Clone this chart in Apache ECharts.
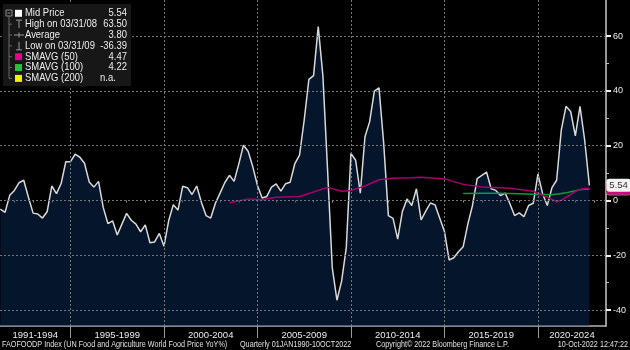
<!DOCTYPE html>
<html>
<head>
<meta charset="utf-8">
<script src="https://cdn.jsdelivr.net/npm/echarts@6/dist/echarts.min.js"></script>
<style>
  html, body { margin: 0; padding: 0; background: #000; }
  #chart { width: 630px; height: 350px; }
</style>
</head>
<body>
<div id="chart"></div>
<script>
// FAO World Food Price Index, year-on-year change (%), quarterly 1991 Q1 .. 2022 Q3
const firstQuarter = '1991Q1';
const midPrice = [
  -3.1, -4.3, 1.9, 3.7, 6.5, 7.4, 1.2, -4.6, -4.9, -6.4,
  -4.1, 5.3, 2.5, 6.2, 14.2, 14.2, 16.9, 15.8, 13.6, 6.8,
  4.9, 7.0, -2.5, -8.4, -7.4, -12.6, -8.6, -4.7, -7.2, -8.6,
  -11.4, -8.9, -15.4, -15.1, -12.0, -16.7, -7.4, -1.5, -3.5, 5.2,
  4.7, 2.2, 5.3, -0.6, -5.5, -6.4, -1.0, 2.7, 6.5, 9.2,
  7.0, 13.3, 20.2, 18.0, 12.3, 5.5, 0.9, 1.5, 4.9, 6.1,
  3.4, 6.1, 6.7, 13.5, 16.6, 29.4, 44.2, 45.6, 63.5, 45.4,
  11.0, -24.5, -36.39, -29.4, -17.2, 17.2, 14.7, 2.7, 23.3, 28.8,
  39.9, 41.1, 20.9, -5.5, -6.5, -14.1, -4.0, 0.6, -1.8, 4.3,
  -7.1, -3.9, -0.9, -1.6, -6.5, -11.3, -21.7, -20.9, -18.7, -16.9,
  -8.6, -1.8, 8.0, 9.2, 10.4, 4.3, 3.7, 1.8, 2.7, -1.2,
  -5.5, -4.5, -5.9, -1.8, -1.0, 9.6, 2.5, -1.8, 4.7, 7.4,
  25.8, 34.4, 32.5, 23.6, 34.4, 22.0, 5.54
];

// Simple moving averages (50 and 100 quarters)
const sma50Quarters = ['2003Q2','2004Q2','2005Q1','2005Q4','2007Q1','2007Q4','2008Q3','2009Q2','2009Q4','2010Q3',
  '2011Q2','2012Q1','2013Q1','2013Q3','2014Q4','2015Q4','2016Q4','2018Q2','2019Q3','2020Q2',
  '2020Q4','2021Q1','2021Q3','2021Q4','2022Q1','2022Q2','2022Q3'];
const sma50Values = [-0.8, 0.6, 0.3, 1.2, 1.5, 3.1, 4.8, 3.4, 3.7, 5.3,
  7.6, 8.1, 8.3, 8.5, 7.9, 5.9, 4.9, 4.5, 3.4, 1.2,
  -0.4, 0.1, 2.2, 3.3, 4.0, 4.4, 4.47];
const sma100Quarters = ['2015Q4','2016Q4','2017Q4','2018Q4','2019Q3','2020Q3','2021Q1','2021Q2','2021Q3','2021Q4','2022Q1','2022Q2','2022Q3'];
const sma100Values = [2.6, 2.7, 2.7, 2.5, 2.3, 2.1, 2.6, 2.8, 3.2, 3.6, 3.9, 4.1, 4.22];

// Axis ticks and labels
const periodLabels = ['1991-1994','1995-1999','2000-2004','2005-2009','2010-2014','2015-2019','2020-2024'];
const periodBounds = [1995, 2000, 2005, 2010, 2015, 2020];
const yearTicks = [1992,1993,1994,1996,1997,1998,1999,2001,2002,2003,2004,2006,2007,2008,2009,
  2011,2012,2013,2014,2016,2017,2018,2019,2021,2022,2023];
const yTicks = [-40, -20, 0, 20, 40, 60];
const yMinorTicks = [-30, -10, 10, 30, 50];

// Legend panel contents
const legendNames = ['Mid Price','High on 03/31/08','Average','Low on 03/31/09','SMAVG (50)','SMAVG (100)','SMAVG (200)'];
const averageText = '3.80';
const sma200Text = 'n.a.';

const footerSource = 'FAOFOODP Index (UN Food and Agriculture World Food Price YoY%)';
const footerRange = 'Quarterly 01JAN1990-10OCT2022';
const footerCopyright = 'Copyright\u00A9 2022 Bloomberg Finance L.P.';
const footerStamp = '10-Oct-2022 12:47:22';

// ---- helpers ----
function quarterToYear(q) {
  const y = parseInt(q.slice(0, 4), 10);
  const n = parseInt(q.slice(5), 10);
  return y + n * 0.25; // end of quarter
}
const startT = quarterToYear(firstQuarter);
const mainData = midPrice.map((v, i) => [startT + i * 0.25, v]);
const sma50Data = sma50Quarters.map((q, i) => [quarterToYear(q), sma50Values[i]]);
const sma100Data = sma100Quarters.map((q, i) => [quarterToYear(q), sma100Values[i]]);

const xMin = 1991.23, xMax = 2023.64;
const yMin = -45.8, yMax = 73.2;

// label centres: middle of the visible part of each period
const edges = [xMin].concat(periodBounds, [xMax]);
const labelPos = periodLabels.map((_, i) => (edges[i] + edges[i + 1]) / 2);
function labelFor(v) {
  let best = 0;
  labelPos.forEach((p, i) => { if (Math.abs(p - v) < Math.abs(labelPos[best] - v)) best = i; });
  return periodLabels[best];
}

const FONT = '"Liberation Sans", Arial, sans-serif';
const TXT = '#ececec';
const GRID_STYLE = { color: '#767676', width: 1, type: [2, 2] };

const maxV = Math.max.apply(null, midPrice);
const minV = Math.min.apply(null, midPrice);
const lastV = midPrice[midPrice.length - 1];
const legendValues = [lastV.toFixed(2), maxV.toFixed(2), averageText, minV.toFixed(2),
  sma50Values[sma50Values.length - 1].toFixed(2), sma100Values[sma100Values.length - 1].toFixed(2), sma200Text];

// ---- legend panel drawn with graphic elements ----
const rowY0 = 13.3, rowStep = 10.85;
const LEG_FONT = '10.5px ' + FONT;
const LEG_SX = 0.9;
const legendEls = [];
legendEls.push({ type: 'rect', shape: { x: 3, y: 4, width: 128, height: 82 }, style: { fill: '#171717' }, z: 10 });
// tree connector
legendEls.push({ type: 'rect', shape: { x: 6, y: 10, width: 6, height: 6 }, style: { fill: 'none', stroke: '#8a8a8a', lineWidth: 1 }, z: 11 });
legendEls.push({ type: 'line', shape: { x1: 7.5, y1: 13, x2: 10.5, y2: 13 }, style: { stroke: '#8a8a8a', lineWidth: 1 }, z: 11 });
legendEls.push({ type: 'line', shape: { x1: 9, y1: 16, x2: 9, y2: rowY0 + 6 * rowStep }, style: { stroke: '#6a6a6a', lineWidth: 1 }, z: 11 });
const iconColors = ['#ffffff', null, null, null, '#e8008a', '#22c33a', '#f2ee00'];
legendNames.forEach((name, i) => {
  const cy = rowY0 + i * rowStep;
  if (i > 0) legendEls.push({ type: 'line', shape: { x1: 9, y1: cy, x2: 12, y2: cy }, style: { stroke: '#6a6a6a', lineWidth: 1 }, z: 11 });
  if (iconColors[i]) {
    legendEls.push({ type: 'rect', shape: { x: 15, y: cy - 3.5, width: 7, height: 7 }, style: { fill: iconColors[i] }, z: 11 });
  } else {
    const st = { stroke: '#9a9a9a', lineWidth: 1 };
    if (i === 1) {
      legendEls.push({ type: 'line', shape: { x1: 16, y1: cy - 4, x2: 22, y2: cy - 4 }, style: st, z: 11 });
      legendEls.push({ type: 'line', shape: { x1: 19, y1: cy - 4, x2: 19, y2: cy + 4 }, style: st, z: 11 });
    } else if (i === 2) {
      legendEls.push({ type: 'line', shape: { x1: 14, y1: cy, x2: 24, y2: cy }, style: st, z: 11 });
      legendEls.push({ type: 'line', shape: { x1: 19, y1: cy - 2.5, x2: 19, y2: cy + 2.5 }, style: st, z: 11 });
    } else {
      legendEls.push({ type: 'line', shape: { x1: 19, y1: cy - 4, x2: 19, y2: cy + 4 }, style: st, z: 11 });
      legendEls.push({ type: 'line', shape: { x1: 16, y1: cy + 4, x2: 22, y2: cy + 4 }, style: st, z: 11 });
    }
  }
  legendEls.push({ type: 'text', x: 25, y: cy, scaleX: LEG_SX, z: 11,
    style: { text: name, fill: TXT, font: LEG_FONT, textVerticalAlign: 'middle' } });
  const val = legendValues[i];
  if (val === sma200Text) {
    legendEls.push({ type: 'text', x: 100, y: cy, scaleX: LEG_SX, z: 11,
      style: { text: val, fill: TXT, font: LEG_FONT, textVerticalAlign: 'middle' } });
  } else {
    legendEls.push({ type: 'text', x: 127, y: cy, scaleX: LEG_SX, z: 11,
      style: { text: val, fill: TXT, font: LEG_FONT, textAlign: 'right', textVerticalAlign: 'middle' } });
  }
});

// footer
const FOOT_SX = 0.85;
const footerStyle = { fill: '#e0e0e0', font: '8.5px ' + FONT, textVerticalAlign: 'middle' };
const footerEls = [
  { type: 'text', x: 2, y: 345, scaleX: FOOT_SX, style: Object.assign({ text: footerSource }, footerStyle) },
  { type: 'text', x: 240, y: 345, scaleX: FOOT_SX, style: Object.assign({ text: footerRange }, footerStyle) },
  { type: 'text', x: 376, y: 345, scaleX: FOOT_SX, style: Object.assign({ text: footerCopyright }, footerStyle) },
  { type: 'text', x: 628, y: 345, scaleX: FOOT_SX, style: Object.assign({ text: footerStamp, textAlign: 'right' }, footerStyle) }
];

const tagLabel = (bg, fg) => ({
  show: true,
  formatter: p => p.value[1].toFixed(2),
  backgroundColor: bg, color: fg,
  fontFamily: FONT, fontSize: 9.5,
  padding: [2, 3, 1, 3], borderRadius: 3,
  distance: 17
});

// dotted grid: period boundaries and major value ticks
const gridMarks = periodBounds.map(x => ({ xAxis: x })).concat(yTicks.map(y => ({ yAxis: y })));

const chart = echarts.init(document.getElementById('chart'), null, { renderer: 'canvas' });
chart.setOption({
  backgroundColor: '#000000',
  animation: false,
  grid: { left: 0, right: 24, top: 0, bottom: 24, containLabel: false },
  xAxis: [
    {
      type: 'value', min: xMin, max: xMax, position: 'bottom',
      axisLine: { show: true, onZero: false, lineStyle: { color: '#b4b4b4', width: 1.5 } },
      axisTick: { show: true, customValues: periodBounds, length: 12, lineStyle: { color: '#9a9a9a', width: 1 } },
      axisLabel: { show: true, customValues: labelPos, formatter: v => labelFor(v),
        color: TXT, fontFamily: FONT, fontSize: 9.5, margin: 4 },
      splitLine: { show: false }
    },
    {
      type: 'value', min: xMin, max: xMax, position: 'bottom',
      axisLine: { show: false },
      axisTick: { show: true, customValues: yearTicks, length: 2, lineStyle: { color: '#9a9a9a', width: 1 } },
      axisLabel: { show: false },
      splitLine: { show: false }
    }
  ],
  yAxis: [
    {
      type: 'value', position: 'right', min: yMin, max: yMax,
      axisLine: { show: true, onZero: false, lineStyle: { color: '#c8c8c8', width: 1.5 } },
      axisTick: { show: true, customValues: yTicks, length: 5, lineStyle: { color: '#f0f0f0', width: 2 } },
      axisLabel: { show: true, customValues: yTicks, color: TXT, fontFamily: FONT, fontSize: 9, margin: 7 },
      splitLine: { show: false }
    },
    {
      type: 'value', position: 'right', min: yMin, max: yMax,
      axisLine: { show: false },
      axisTick: { show: true, customValues: yMinorTicks, length: 3, lineStyle: { color: '#bdbdbd', width: 1 } },
      axisLabel: { show: false },
      splitLine: { show: false }
    }
  ],
  series: [
    {
      name: 'grid', type: 'line', data: [], z: 1, silent: true,
      markLine: {
        silent: true, animation: false, symbol: ['none', 'none'],
        label: { show: false }, emphasis: { disabled: true },
        lineStyle: GRID_STYLE,
        data: gridMarks
      }
    },
    {
      name: 'Mid Price', type: 'line', data: mainData, z: 2,
      showSymbol: false, smooth: false,
      lineStyle: { color: '#d9d9d9', width: 1.5 },
      areaStyle: { origin: 'start', color: 'rgba(8, 48, 98, 0.64)' }
    },
    {
      name: 'SMAVG (100)', type: 'line', data: sma100Data, z: 3,
      showSymbol: false, lineStyle: { color: '#0f9a3c', width: 1.5 },
      endLabel: tagLabel('#22c33a', '#111')
    },
    {
      name: 'SMAVG (50)', type: 'line', data: sma50Data, z: 4,
      showSymbol: false, lineStyle: { color: '#a8006e', width: 1.5 },
      endLabel: tagLabel('#d4007f', '#fff')
    },
    {
      name: 'Mid Price tag', type: 'line', data: mainData, z: 5,
      showSymbol: false, silent: true,
      lineStyle: { opacity: 0 },
      endLabel: tagLabel('#f2f2f2', '#333')
    }
  ],
  graphic: legendEls.concat(footerEls)
});
</script>
</body>
</html>
